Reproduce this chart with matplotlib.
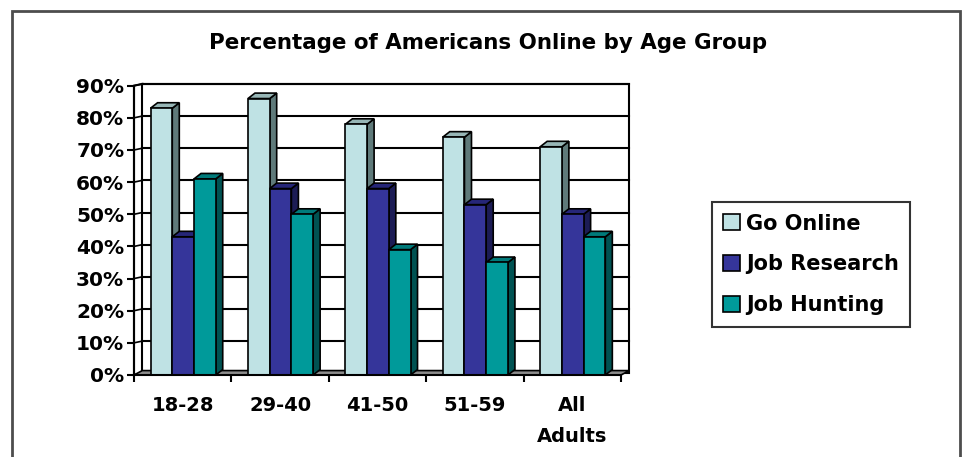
import numpy as np
import matplotlib.pyplot as plt
from matplotlib.patches import Polygon, Rectangle, Patch

plt.rcParams['font.family'] = ['DejaVu Sans']

# データ
groups = ['18-28', '29-40', '41-50', '51-59', 'All\nAdults']
series_names = ['Go Online', 'Job Research', 'Job Hunting']
go_online = [83, 86, 78, 74, 71]
job_research = [43, 58, 58, 53, 50]
job_hunting = [61, 50, 39, 35, 43]

front_cols = ['#bfe2e4', '#35359a', '#009a9a']
top_cols = ['#97b6b6', '#262678', '#007a7a']
side_cols = ['#5f7a7a', '#1c1c55', '#005252']

values = [go_online, job_research, job_hunting]
n = len(groups)

fig = plt.figure(figsize=(9.63, 4.57), dpi=100)
ax = fig.add_axes([134 / 963, 82 / 457, 487 / 963, 289.3 / 457])
ax.set_xlim(0, n)
ax.set_ylim(0, 90)

# 奥行きのずれ（データ単位）
wdx, wdy = 0.085, 0.55   # 壁
bdx, bdy = 0.072, 1.7    # 棒
bw = 0.223
off = 0.17

# 壁とグリッド
ax.add_patch(Polygon([(0, 0), (wdx, wdy), (wdx, 90 + wdy), (0, 90)],
                     closed=True, fc='white', ec='black', lw=1.5, clip_on=False))
ax.add_patch(Rectangle((wdx, wdy), n, 90, fc='white', ec='black', lw=1.5, clip_on=False))
for v in range(10, 91, 10):
    ax.plot([wdx, n + wdx], [v + wdy, v + wdy], color='black', lw=1.5, clip_on=False)
    ax.plot([0, wdx], [v, v + wdy], color='black', lw=1.2, clip_on=False)

# 床
ax.add_patch(Polygon([(0, 0), (n, 0), (n + wdx, wdy * 2.5), (wdx, wdy * 2.5)],
                     closed=True, fc='#8c8c8c', ec='black', lw=1.2, clip_on=False))

# 3D風の棒
for g in range(n):
    for s in range(3):
        x0 = g + off + s * bw
        h = values[s][g]
        side = Polygon([(x0 + bw, 0), (x0 + bw + bdx, bdy), (x0 + bw + bdx, h + bdy), (x0 + bw, h)],
                       closed=True, fc=side_cols[s], ec='black', lw=1.2, clip_on=False, zorder=3)
        top = Polygon([(x0, h), (x0 + bw, h), (x0 + bw + bdx, h + bdy), (x0 + bdx, h + bdy)],
                      closed=True, fc=top_cols[s], ec='black', lw=1.2, clip_on=False, zorder=3)
        ax.add_patch(side)
        ax.add_patch(top)
        ax.bar(x0, h, width=bw, align='edge', color=front_cols[s], edgecolor='black',
               lw=1.2, zorder=3, clip_on=False)

# 軸
for sp in ['top', 'right']:
    ax.spines[sp].set_visible(False)
ax.spines['left'].set_linewidth(1.5)
ax.spines['bottom'].set_linewidth(1.5)
ax.spines['left'].set_zorder(5)
ax.spines['bottom'].set_zorder(5)
ax.set_yticks(range(0, 91, 10))
ax.set_yticklabels([f'{v}%' for v in range(0, 91, 10)], fontsize=14.5, fontweight='bold')
ax.set_xticks(range(0, n + 1))
ax.set_xticklabels([])
ax.set_xticks(np.arange(n) + 0.5, minor=True)
ax.set_xticklabels(groups, minor=True, fontsize=14, fontweight='bold')
ax.tick_params(axis='x', which='minor', length=0, pad=15)
ax.tick_params(axis='both', which='major', length=5, width=1.5, direction='out')
ax.tick_params(axis='y', pad=2)
for lbl in ax.get_xticklabels(minor=True):
    lbl.set_linespacing(1.8)

fig.text(0.507, 0.905, 'Percentage of Americans Online by Age Group',
         ha='center', va='center', fontsize=15.4, fontweight='bold')

handles = [Patch(fc=c, ec='black', lw=1.2) for c in front_cols]
leg = fig.legend(handles, series_names, loc='center left', bbox_to_anchor=(0.739, 0.4215),
                 frameon=True, fancybox=False, edgecolor='black', handlelength=0.8,
                 handleheight=0.8, handletextpad=0.3, labelspacing=1.0, borderpad=0.55,
                 borderaxespad=0, prop={'size': 15, 'weight': 'bold'})
leg.get_frame().set_linewidth(1.5)

# 外枠
fig.patches.append(Rectangle((12 / 963, -0.05), 948 / 963, 1.05 - 11 / 457,
                             transform=fig.transFigure, fill=False, ec='#4d4d4d', lw=2))

fig.savefig('out.png', dpi=100)
